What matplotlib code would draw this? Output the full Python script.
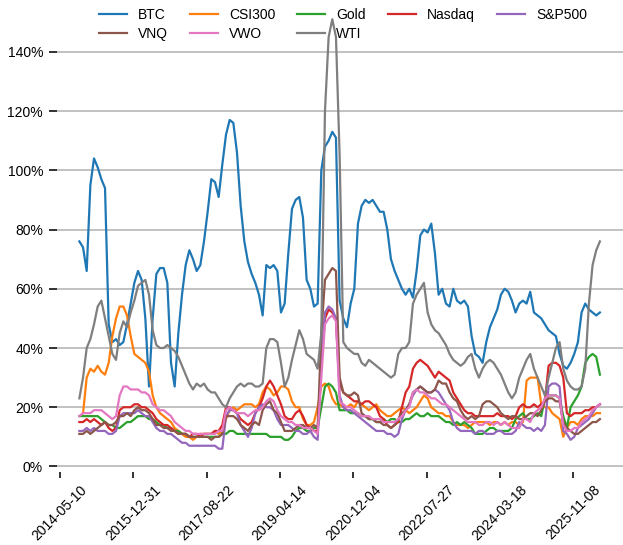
import matplotlib.pyplot as plt
import matplotlib.dates as mdates
import matplotlib.ticker as mtick
import numpy as np
import pandas as pd

plt.rcParams['font.family'] = ['Liberation Sans', 'DejaVu Sans']

# rolling volatility (%), sampled every 30 days
dates = pd.date_range('2014-10-15', periods=143, freq='30D')

btc = [76, 74, 66, 95, 104, 101, 97, 94, 48, 42,
       43, 41, 42, 48, 55, 62, 66, 63, 50, 27,
       50, 65, 67, 67, 62, 35, 27, 45, 58, 68,
       73, 70, 66, 68, 76, 86, 97, 96, 91, 102,
       112, 117, 116, 106, 88, 76, 69, 65, 62, 58,
       51, 68, 67, 68, 66, 52, 55, 72, 87, 90,
       91, 84, 63, 60, 54, 55, 100, 108, 110, 113,
       111, 56, 50, 47, 55, 60, 82, 88, 90, 89,
       90, 88, 86, 86, 80, 70, 66, 63, 60, 58,
       60, 57, 66, 78, 80, 79, 82, 72, 58, 60,
       55, 54, 60, 56, 55, 56, 54, 44, 38, 37,
       35, 42, 47, 50, 53, 58, 60, 59, 56, 52,
       55, 56, 55, 59, 52, 51, 50, 48, 46, 45,
       44, 38, 34, 33, 35, 38, 42, 52, 55, 53,
       52, 51, 52]

csi300 = [np.nan, 18, 30, 33, 32, 34, 32, 31, 35, 44,
          50, 54, 54, 51, 44, 38, 37, 36, 35, 32,
          24, 20, 18, 17, 16, 15, 13, 12, 11, 10,
          10, 9, 10, 11, 11, 11, 11, 12, 11, 12,
          16, 19, 20, 19, 20, 21, 21, 21, 20, 21,
          25, 27, 26, 24, 25, 27, 27, 26, 22, 20,
          20, 16, 14, 14, 15, 20, 27, 28, 27, 23,
          21, 21, 20, 20, 21, 20, 22, 21, 20, 19,
          20, 21, 19, 18, 17, 17, 18, 19, 20, 19,
          18, 19, 20, 22, 24, 23, 20, 19, 18, 18,
          17, 17, 15, 14, 14, 14, 13, 14, 15, 15,
          15, 15, 14, 15, 15, 14, 15, 14, 15, 15,
          14, 15, 29, 30, 30, 30, 21, 20, 20, 18,
          17, 16, 10, 13, 15, 15, 14, 16, 17, 17,
          17, 18, 18]

gold = [17, 17, 17, 17, 17, 17, 16, 15, 14, 14,
        13, 13, 14, 15, 15, 16, 17, 17, 17, 16,
        16, 15, 14, 14, 13, 13, 12, 12, 11, 11,
        10, 10, 10, 10, 10, 10, 10, 10, 10, 11,
        11, 12, 12, 11, 11, 11, 11, 11, 11, 11,
        11, 11, 10, 10, 10, 10, 9, 9, 10, 12,
        13, 13, 12, 12, 13, 13, 20, 27, 28, 27,
        25, 19, 19, 19, 18, 18, 18, 17, 17, 16,
        16, 15, 15, 16, 15, 16, 16, 15, 15, 16,
        16, 17, 18, 17, 17, 18, 17, 17, 17, 16,
        15, 15, 14, 15, 14, 15, 14, 13, 11, 11,
        11, 12, 13, 13, 12, 12, 12, 12, 13, 16,
        17, 18, 16, 16, 17, 18, 17, 23, 24, 24,
        24, 23, 17, 13, 20, 22, 24, 27, 35, 37,
        38, 37, 31]

nasdaq = [15, 15, 16, 15, 16, 15, 14, 15, 13, 12,
          13, 19, 20, 20, 20, 21, 21, 20, 20, 19,
          18, 16, 15, 14, 14, 13, 12, 11, 11, 11,
          10, 11, 11, 10, 11, 11, 11, 12, 12, 14,
          20, 20, 19, 18, 16, 15, 14, 15, 18, 20,
          23, 27, 29, 27, 24, 21, 17, 16, 16, 18,
          19, 17, 14, 13, 12, 12, 35, 50, 53, 52,
          50, 28, 25, 24, 23, 22, 22, 21, 22, 22,
          21, 20, 17, 16, 14, 13, 14, 15, 20, 25,
          27, 33, 35, 36, 35, 34, 32, 30, 32, 31,
          30, 29, 25, 23, 21, 19, 18, 18, 17, 17,
          17, 17, 17, 17, 18, 17, 17, 17, 16, 17,
          20, 21, 20, 20, 21, 20, 21, 22, 34, 35,
          35, 34, 30, 18, 17, 18, 18, 18, 19, 19,
          20, 20, 21]

sp500 = [12, 12, 13, 12, 13, 12, 12, 12, 11, 11,
         12, 17, 18, 18, 18, 18, 19, 18, 17, 17,
         15, 13, 12, 12, 11, 11, 10, 9, 8, 8,
         7, 7, 7, 7, 7, 7, 7, 7, 6, 6,
         17, 19, 19, 18, 14, 12, 10, 13, 18, 20,
         21, 20, 20, 19, 16, 14, 14, 14, 13, 12,
         12, 11, 11, 12, 10, 9, 35, 52, 54, 53,
         50, 24, 20, 19, 19, 18, 17, 16, 15, 14,
         13, 12, 12, 12, 11, 11, 10, 11, 16, 19,
         21, 24, 26, 27, 26, 25, 25, 26, 25, 23,
         21, 19, 15, 13, 12, 12, 12, 12, 11, 12,
         12, 11, 11, 11, 12, 12, 11, 11, 11, 12,
         15, 14, 13, 13, 12, 13, 12, 14, 27, 28,
         28, 27, 12, 11, 9, 10, 13, 14, 15, 16,
         18, 20, 21]

vnq = [11, 11, 12, 11, 12, 13, 14, 15, 14, 14,
       15, 17, 17, 18, 17, 19, 20, 19, 19, 18,
       16, 14, 14, 13, 13, 12, 12, 11, 11, 11,
       10, 10, 10, 10, 10, 10, 9, 10, 10, 11,
       17, 17, 17, 16, 14, 13, 12, 14, 15, 14,
       19, 21, 22, 19, 18, 15, 12, 12, 12, 13,
       14, 14, 13, 13, 14, 13, 45, 63, 65, 67,
       66, 30, 25, 24, 24, 25, 24, 18, 17, 16,
       16, 15, 15, 14, 14, 13, 14, 16, 18, 19,
       21, 25, 26, 27, 26, 25, 25, 26, 29, 28,
       28, 25, 23, 22, 19, 17, 16, 17, 16, 17,
       21, 22, 22, 21, 20, 18, 17, 16, 17, 17,
       16, 16, 17, 18, 18, 17, 19, 22, 23, 23,
       22, 22, 15, 13, 12, 11, 11, 12, 13, 14,
       15, 15, 16]

vwo = [17, 18, 18, 18, 19, 19, 19, 18, 17, 16,
       17, 24, 27, 27, 26, 26, 26, 25, 25, 24,
       21, 20, 19, 19, 18, 17, 15, 14, 13, 12,
       12, 11, 11, 11, 11, 11, 11, 11, 12, 12,
       19, 20, 19, 18, 18, 18, 17, 18, 19, 19,
       20, 22, 23, 22, 19, 17, 16, 15, 15, 14,
       14, 13, 13, 13, 12, 11, 30, 48, 50, 51,
       49, 22, 21, 20, 20, 19, 18, 17, 17, 17,
       16, 16, 16, 15, 15, 15, 15, 16, 17, 19,
       20, 25, 26, 25, 25, 24, 23, 23, 22, 21,
       21, 20, 19, 18, 17, 16, 15, 15, 15, 14,
       14, 15, 15, 14, 15, 14, 15, 14, 13, 13,
       13, 16, 16, 15, 18, 19, 20, 23, 24, 24,
       24, 23, 14, 12, 12, 13, 13, 15, 16, 17,
       19, 20, 21]

wti = [23, 30, 40, 43, 48, 54, 56, 50, 44, 38,
       36, 45, 49, 47, 52, 56, 61, 62, 63, 58,
       46, 41, 40, 40, 41, 40, 39, 37, 34, 31,
       28, 26, 28, 27, 28, 26, 25, 25, 23, 21,
       20, 23, 25, 27, 28, 27, 28, 28, 27, 27,
       28, 40, 43, 43, 42, 35, 27, 30, 36, 41,
       46, 43, 38, 37, 36, 33, 45, 120, 145, 151,
       145, 105, 42, 40, 39, 38, 38, 35, 34, 36,
       35, 34, 33, 32, 31, 30, 31, 38, 40, 40,
       42, 55, 58, 60, 62, 52, 48, 46, 45, 43,
       41, 38, 36, 35, 34, 35, 37, 38, 33, 30,
       33, 35, 36, 35, 33, 31, 28, 25, 23, 25,
       30, 33, 36, 38, 33, 30, 27, 24, 30, 35,
       40, 42, 33, 29, 27, 26, 26, 27, 33, 55,
       68, 73, 76]

names = ['BTC', 'CSI300', 'Gold', 'Nasdaq', 'S&P500', 'VNQ', 'VWO', 'WTI']
values = [btc, csi300, gold, nasdaq, sp500, vnq, vwo, wti]

fig = plt.figure(figsize=(6.23, 5.45), dpi=100)
ax = fig.add_axes([57 / 623, 1 - 472.4 / 545, 566 / 623, 472.4 / 545])

lines = {}
for name, vals in zip(names, values):
    lines[name], = ax.plot(dates, np.array(vals, dtype=float), lw=1.6, label=name)

ax.set_xlim(pd.Timestamp('2014-04-15'), pd.Timestamp('2026-12-20'))
ax.set_ylim(-2.0, 157.5)
ax.set_yticks(np.arange(0, 141, 20))
ax.yaxis.set_major_formatter(mtick.PercentFormatter(100, decimals=0))

ax.set_xticks(pd.date_range('2014-05-10', periods=8, freq='600D'))
ax.xaxis.set_major_formatter(mdates.DateFormatter('%Y-%m-%d'))
plt.setp(ax.get_xticklabels(), rotation=45)

ax.grid(axis='y', color='#b0b0b0', lw=1.1)
ax.set_axisbelow(True)
for s in ax.spines.values():
    s.set_visible(False)
ax.tick_params(axis='y', length=6, width=1.3, color='#222222', labelsize=10, pad=4)
ax.tick_params(axis='x', length=4.5, width=1.3, color='#222222', labelsize=10, pad=3)

# legend in row order (matplotlib fills column by column)
order = ['BTC', 'VNQ', 'CSI300', 'VWO', 'Gold', 'WTI', 'Nasdaq', 'S&P500']
ax.legend([lines[n] for n in order], order, ncol=5, loc='upper center',
          bbox_to_anchor=(0.505, 1.0), frameon=False, fontsize=10,
          borderaxespad=0.2, columnspacing=1.6, labelspacing=0.3)

fig.savefig('out.png', dpi=100)
